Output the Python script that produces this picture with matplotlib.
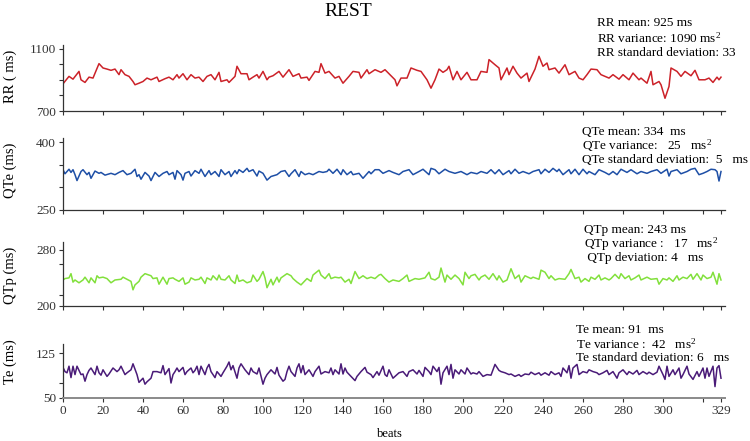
import matplotlib
matplotlib.use("Agg")
import matplotlib.pyplot as plt

plt.rcParams['font.family'] = ['Liberation Serif', 'DejaVu Serif']
plt.rcParams['mathtext.fontset'] = 'custom'
plt.rcParams['mathtext.rm'] = 'Liberation Serif'
plt.rcParams['mathtext.it'] = 'Liberation Serif:italic'
plt.rcParams['mathtext.bf'] = 'Liberation Serif:bold'

title = "REST"
x_label = "beats"
x_ticks = [0, 20, 40, 60, 80, 100, 120, 140, 160, 180, 200, 220, 240, 260, 280, 300, 320, 329]
x_tick_labels = ['0', '20', '40', '60', '80', '100', '120', '140', '160', '180', '200',
                 '220', '240', '260', '280', '300', '', '329']

rr_points = [(0, 875), (3, 923), (5, 905), (8, 955), (9, 901), (11, 884), (13, 918), (15, 912),
             (18, 1005), (20, 977), (22, 970), (24, 962), (26, 970), (28, 934), (29, 966), (31, 934),
             (33, 923), (35, 890), (36, 869), (38, 879), (40, 890), (42, 912), (44, 901), (47, 918),
             (48, 890), (51, 908), (53, 918), (55, 901), (57, 934), (58, 912), (60, 940), (62, 901),
             (64, 934), (66, 912), (68, 918), (70, 890), (72, 923), (74, 934), (76, 901), (78, 949),
             (79, 890), (82, 901), (83, 884), (86, 923), (87, 988), (89, 940), (92, 940), (93, 901),
             (95, 918), (97, 934), (98, 912), (100, 955), (102, 901), (103, 918), (105, 927), (108, 955),
             (110, 918), (113, 966), (115, 923), (118, 940), (119, 912), (122, 918), (123, 897), (126, 955),
             (128, 949), (129, 1005), (131, 944), (133, 955), (136, 912), (138, 923), (140, 879), (143, 923),
             (145, 955), (148, 949), (149, 912), (152, 966), (153, 940), (156, 966), (159, 949), (161, 966),
             (163, 940), (166, 901), (167, 862), (169, 912), (172, 912), (174, 977), (177, 962), (179, 955),
             (182, 901), (184, 847), (186, 901), (188, 970), (190, 949), (192, 966), (193, 988), (195, 901),
             (197, 955), (199, 901), (202, 949), (204, 901), (207, 901), (209, 955), (212, 949), (213, 1031),
             (216, 998), (218, 977), (219, 901), (222, 977), (223, 934), (225, 988), (227, 944), (229, 912),
             (232, 944), (233, 890), (236, 970), (238, 1052), (240, 988), (242, 1009), (243, 966), (246, 977),
             (248, 944), (251, 998), (253, 934), (256, 955), (258, 912), (260, 901), (262, 934), (264, 970),
             (267, 966), (269, 934), (273, 912), (275, 934), (278, 905), (280, 934), (283, 901), (285, 944),
             (288, 901), (289, 912), (292, 879), (294, 955), (295, 869), (298, 890), (299, 869), (301, 782),
             (303, 858), (304, 977), (307, 955), (309, 923), (311, 955), (314, 927), (316, 962), (318, 901),
             (321, 901), (323, 912), (325, 884), (327, 918), (328, 901), (329, 918)]

qte_points = [(0, 339), (1, 330), (3, 340), (4, 333), (5, 339), (6, 328), (7, 315), (9, 335), (10, 339),
              (12, 328), (13, 333), (14, 320), (16, 336), (18, 331), (19, 333), (21, 327), (24, 331),
              (26, 328), (28, 333), (30, 337), (32, 328), (34, 331), (36, 340), (37, 324), (38, 328),
              (39, 318), (41, 333), (43, 325), (44, 315), (46, 333), (48, 324), (50, 331), (52, 335),
              (53, 328), (55, 333), (56, 318), (57, 337), (59, 328), (60, 316), (61, 331), (63, 335),
              (64, 325), (66, 337), (68, 331), (69, 340), (71, 324), (73, 337), (74, 328), (76, 335),
              (78, 324), (79, 339), (81, 328), (83, 335), (84, 324), (86, 337), (87, 330), (88, 339),
              (90, 333), (92, 342), (93, 335), (95, 339), (97, 325), (98, 336), (100, 331), (102, 316),
              (104, 324), (107, 328), (109, 335), (111, 337), (113, 324), (114, 330), (116, 339), (118, 324),
              (119, 335), (121, 328), (123, 331), (125, 328), (128, 335), (130, 333), (132, 335), (133, 340),
              (135, 331), (137, 340), (139, 328), (140, 339), (142, 328), (144, 335), (145, 328), (148, 331),
              (150, 320), (153, 335), (154, 330), (156, 339), (158, 339), (160, 331), (163, 337), (165, 333),
              (168, 328), (170, 335), (173, 339), (175, 328), (178, 335), (180, 340), (183, 328), (184, 342),
              (186, 339), (188, 330), (191, 340), (193, 335), (196, 331), (199, 335), (202, 328), (204, 333),
              (207, 330), (209, 335), (212, 331), (214, 339), (216, 330), (218, 339), (220, 328), (223, 337),
              (224, 330), (226, 340), (228, 331), (230, 335), (233, 330), (235, 335), (238, 339), (239, 330),
              (241, 340), (243, 333), (245, 342), (247, 335), (248, 340), (250, 328), (253, 339), (254, 330),
              (256, 340), (258, 328), (260, 340), (262, 330), (263, 335), (266, 328), (268, 339), (271, 333),
              (273, 328), (275, 335), (277, 328), (279, 340), (282, 333), (284, 339), (287, 330), (289, 335),
              (292, 331), (294, 335), (297, 339), (299, 331), (302, 340), (303, 325), (304, 335), (307, 339),
              (309, 330), (312, 335), (314, 340), (316, 342), (318, 328), (320, 331), (322, 335), (324, 340),
              (326, 339), (327, 335), (328, 314), (329, 335)]

qtp_points = [(0, 237), (1, 239), (3, 240), (4, 246), (5, 234), (6, 237), (8, 233), (10, 237), (11, 241),
              (13, 233), (14, 240), (16, 233), (17, 243), (18, 240), (20, 241), (22, 239), (24, 233),
              (26, 237), (29, 238), (30, 241), (32, 238), (34, 235), (35, 223), (36, 230), (38, 235),
              (39, 241), (41, 246), (44, 243), (45, 239), (47, 240), (48, 231), (50, 241), (52, 231),
              (53, 239), (55, 240), (56, 238), (58, 235), (60, 240), (61, 231), (63, 234), (64, 240),
              (66, 237), (68, 238), (69, 241), (71, 232), (72, 240), (74, 237), (75, 243), (77, 237),
              (78, 244), (79, 238), (81, 237), (83, 243), (84, 237), (86, 232), (87, 244), (88, 235),
              (90, 237), (92, 233), (94, 235), (95, 244), (97, 235), (98, 238), (100, 249), (101, 240),
              (102, 226), (104, 238), (105, 230), (107, 241), (108, 234), (109, 240), (112, 246), (114, 243),
              (115, 239), (117, 234), (119, 230), (120, 233), (122, 239), (124, 235), (125, 244), (128, 251),
              (129, 244), (131, 239), (133, 246), (134, 239), (136, 241), (138, 240), (139, 241), (141, 234),
              (143, 238), (144, 232), (146, 249), (148, 239), (150, 243), (152, 239), (154, 241), (156, 239),
              (158, 244), (159, 245), (161, 239), (163, 234), (165, 237), (168, 235), (170, 239), (172, 244),
              (173, 235), (176, 239), (178, 238), (181, 240), (183, 248), (184, 239), (186, 237), (188, 241),
              (189, 254), (191, 234), (192, 244), (194, 238), (196, 244), (198, 239), (200, 230), (201, 248),
              (203, 239), (204, 243), (206, 245), (208, 237), (209, 241), (211, 244), (213, 238), (215, 246),
              (217, 237), (218, 243), (220, 234), (222, 237), (224, 253), (226, 239), (228, 244), (229, 234),
              (231, 243), (234, 239), (235, 241), (238, 238), (239, 251), (241, 248), (243, 239), (244, 243),
              (246, 237), (248, 239), (251, 238), (253, 246), (254, 252), (256, 239), (258, 241), (259, 234),
              (261, 239), (263, 235), (264, 241), (266, 238), (268, 244), (269, 237), (271, 240), (273, 237),
              (274, 239), (276, 245), (278, 239), (279, 246), (281, 239), (283, 243), (284, 237), (286, 240),
              (288, 244), (289, 237), (292, 241), (294, 238), (297, 239), (298, 231), (300, 239), (302, 237),
              (303, 240), (305, 235), (307, 243), (308, 237), (310, 241), (312, 239), (314, 245), (315, 238),
              (317, 246), (319, 237), (320, 244), (322, 239), (324, 241), (325, 248), (327, 231), (328, 246),
              (329, 237)]

te_points = [(0, 101), (1, 94), (2, 92), (3, 103), (4, 84), (5, 103), (6, 89), (7, 103), (9, 89), (10, 90),
             (11, 78), (12, 89), (13, 96), (14, 100), (16, 89), (17, 103), (18, 92), (19, 88), (20, 97),
             (22, 86), (23, 90), (25, 100), (27, 94), (28, 97), (29, 103), (31, 89), (32, 92), (34, 97),
             (35, 107), (37, 89), (38, 76), (40, 83), (41, 73), (42, 77), (44, 83), (45, 94), (47, 94),
             (49, 92), (50, 104), (51, 89), (53, 99), (54, 75), (55, 89), (56, 94), (57, 100), (58, 94),
             (60, 101), (61, 89), (62, 94), (64, 100), (65, 92), (66, 96), (67, 103), (68, 89), (69, 103),
             (71, 89), (72, 100), (73, 106), (74, 94), (76, 84), (77, 94), (79, 86), (80, 92), (82, 103),
             (83, 110), (84, 97), (85, 104), (87, 83), (88, 100), (89, 107), (91, 97), (93, 89), (94, 100),
             (95, 94), (97, 90), (98, 100), (100, 73), (101, 83), (102, 89), (104, 97), (106, 90), (107, 101),
             (108, 88), (110, 78), (111, 81), (112, 94), (113, 103), (114, 94), (116, 86), (117, 100),
             (118, 107), (119, 92), (120, 104), (121, 89), (123, 97), (125, 86), (126, 94), (128, 103),
             (129, 90), (131, 94), (133, 92), (134, 100), (135, 89), (136, 97), (138, 90), (139, 107),
             (140, 90), (141, 100), (142, 93), (144, 86), (146, 79), (147, 86), (149, 94), (151, 101),
             (152, 93), (154, 89), (155, 84), (157, 94), (158, 88), (160, 103), (161, 89), (162, 86),
             (163, 97), (165, 83), (167, 89), (168, 92), (170, 94), (172, 86), (173, 94), (175, 97),
             (177, 90), (178, 96), (180, 86), (181, 101), (183, 94), (184, 89), (185, 103), (187, 94),
             (188, 101), (189, 73), (190, 92), (192, 103), (193, 89), (194, 106), (195, 83), (196, 97),
             (198, 90), (199, 97), (201, 90), (202, 100), (204, 90), (205, 92), (207, 90), (208, 94),
             (210, 86), (212, 89), (214, 88), (216, 106), (218, 96), (219, 94), (221, 92), (223, 89),
             (224, 90), (226, 86), (228, 89), (229, 86), (231, 90), (233, 89), (234, 93), (236, 89),
             (238, 92), (239, 88), (241, 92), (243, 88), (244, 94), (246, 89), (248, 92), (249, 86),
             (250, 100), (252, 92), (253, 104), (254, 83), (255, 100), (257, 106), (258, 89), (260, 94),
             (262, 92), (263, 97), (265, 94), (267, 92), (268, 89), (270, 92), (272, 96), (273, 89),
             (275, 94), (277, 83), (278, 92), (280, 97), (282, 89), (283, 94), (285, 90), (287, 96),
             (288, 89), (290, 94), (292, 90), (293, 93), (295, 89), (297, 93), (298, 103), (300, 89),
             (301, 81), (302, 103), (303, 86), (305, 97), (306, 89), (308, 100), (309, 83), (310, 89),
             (312, 103), (313, 90), (315, 81), (317, 94), (318, 86), (320, 100), (321, 83), (322, 100),
             (323, 86), (325, 103), (326, 69), (327, 100), (328, 104), (329, 83)]

y_labels = ["RR ( ms)", "QTe (ms)", "QTp (ms)", "Te (ms)"]
y_ticks = [[700, 800, 900, 1000, 1100], [250, 300, 350, 400], [200, 215, 260, 280], [50, 75, 125]]
y_tick_labels = [['700', '', '', '', '1100'], ['250', '', '', '400'], ['200', '', '', '280'], ['50', '', '125']]
y_limits = [(700, 1125), (250, 409), (200, 291), (50, 140)]
colors = ['#cc2229', '#1e4fa6', '#82e03c', '#4a1b78']

rr_text = ["RR mean: 925 ms", "RR variance: 1090 ms$^{2}$", "RR standard deviation: 33"]
qte_text = ["QTe mean: 334  ms", "QTe variance:   25   ms$^{2}$", "QTe standard deviation:  5   ms"]
qtp_text = ["QTp mean: 243 ms", "QTp variance :   17   ms$^{2}$", " QTp deviation: 4   ms"]
te_text = ["Te mean: 91  ms", "Te variance :  42   ms$^{2}$", "Te standard deviation: 6   ms"]

W, H = 750.0, 441.0
fig = plt.figure(figsize=(7.5, 4.41), dpi=100)

# axes boxes in pixel space: (top, bottom)
boxes = [(45, 111), (138, 210), (242, 306), (344, 398)]
left_px, right_px = 63, 725
label_y = [76, 170, 275, 362]
text_pos = [(597, [23, 38, 53]), (582, [132, 146, 160]), (584, [230, 244, 258]), (576, [330, 344, 358])]
texts = [rr_text, qte_text, qtp_text, te_text]
series = [rr_points, qte_points, qtp_points, te_points]

for i in range(4):
    top, bot = boxes[i]
    ax = fig.add_axes([left_px / W, 1 - bot / H, (right_px - left_px) / W, (bot - top) / H])
    xs = [p[0] for p in series[i]]
    ys = [p[1] for p in series[i]]
    ax.plot(xs, ys, color=colors[i], lw=1.1)
    ax.set_xlim(0, 331)
    ax.set_ylim(*y_limits[i])
    ax.set_yticks(y_ticks[i])
    ax.set_yticklabels(y_tick_labels[i])
    ax.set_xticks(x_ticks)
    if i == 3:
        ax.set_xticklabels(x_tick_labels)
    else:
        ax.set_xticklabels([''] * len(x_ticks))
    for s in ['top', 'right']:
        ax.spines[s].set_visible(False)
    for s in ['left', 'bottom']:
        ax.spines[s].set_color('#333333')
        ax.spines[s].set_linewidth(0.9)
    if i == 3:
        ax.spines['bottom'].set_color('#8a8a8a')
        ax.spines['bottom'].set_linewidth(1.4)
    ax.tick_params(direction='out', length=3, width=0.8, colors='#333333', labelsize=9.5, pad=2)
    ax.patch.set_alpha(0)
    fig.text(10 / W, 1 - label_y[i] / H, y_labels[i], rotation=90, ha='center', va='center', fontsize=10.5)
    tx, tys = text_pos[i]
    for line, ty in zip(texts[i], tys):
        fig.text(tx / W, 1 - ty / H, line, ha='left', va='center', fontsize=9.5)

fig.text(348 / W, 1 - 12 / H, title, ha='center', va='center', fontsize=14)
fig.text(390 / W, 1 - 434 / H, x_label, ha='center', va='center', fontsize=9)

fig.savefig('out.png', dpi=100)
